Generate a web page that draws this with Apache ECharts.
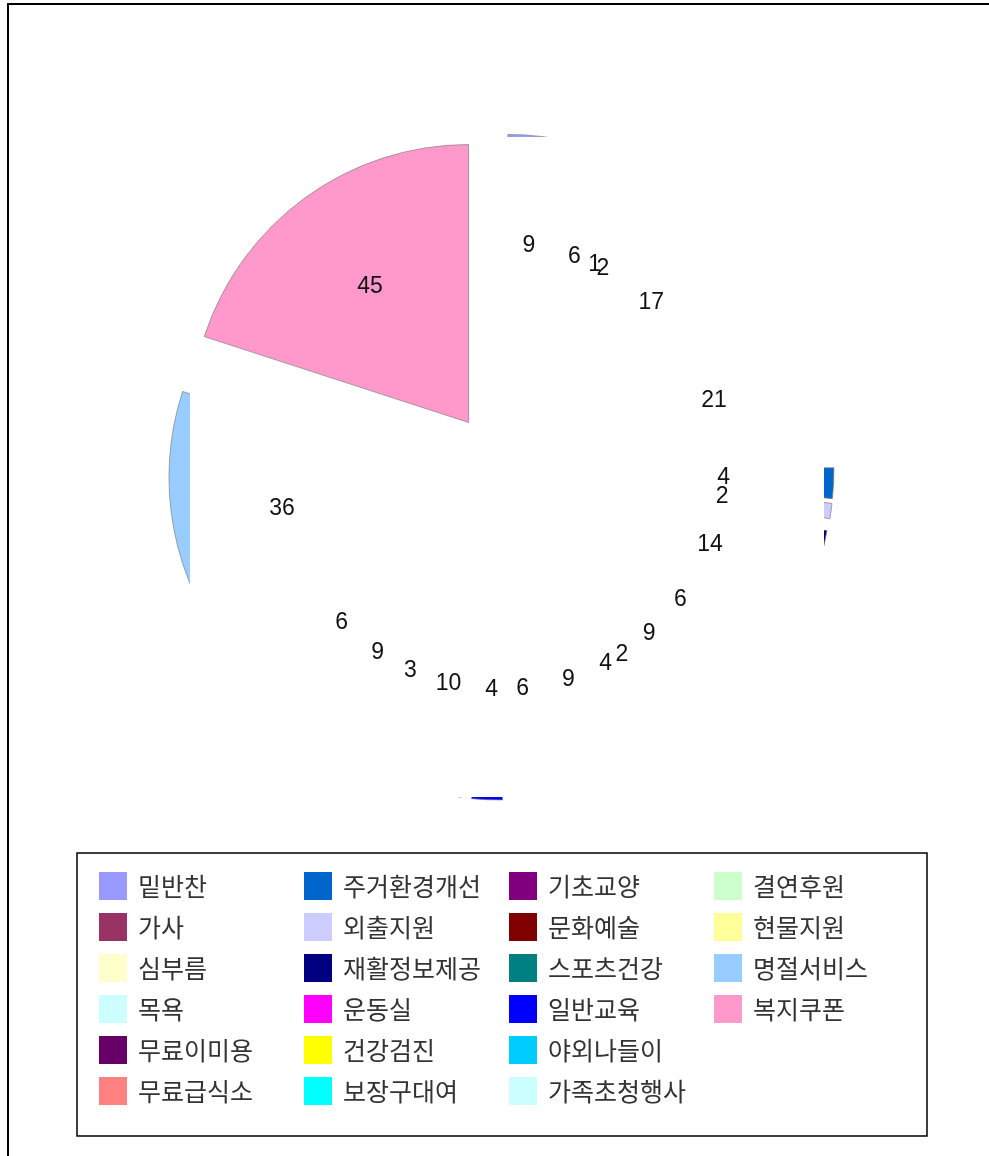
<!DOCTYPE html>
<html>
<head>
<meta charset="utf-8">
<title>pie</title>
<script src="https://cdn.jsdelivr.net/npm/echarts@6/dist/echarts.min.js"></script>
<style>
  html, body { margin: 0; padding: 0; background: #fff; }
  #chart { width: 989px; height: 1156px; }
</style>
</head>
<body>
<div id="chart"></div>
<script>
// 슬라이스 순서 (시계 방향, 12시부터)
var categories = ['밑반찬', '가사', '심부름', '목욕', '무료이미용', '무료급식소',
  '주거환경개선', '외출지원', '재활정보제공', '운동실', '건강검진', '보장구대여',
  '기초교양', '문화예술', '스포츠건강', '일반교육', '야외나들이', '가족초청행사',
  '결연후원', '현물지원', '명절서비스', '복지쿠폰']
var values = [9, 6, 1, 2, 17, 21, 4, 2, 14, 6, 9, 2, 4, 9, 6, 4, 10, 3, 9, 6, 36, 45]
var colors = ['#9999FF', '#993366', '#FFFFCC', '#CCFFFF', '#660066', '#FF8080',
  '#0066CC', '#CCCCFF', '#000080', '#FF00FF', '#FFFF00', '#00FFFF',
  '#800080', '#800000', '#008080', '#0000FF', '#00CCFF', '#CCFFFF',
  '#CCFFCC', '#FFFF99', '#99CCFF', '#FF99CC']
// 범례 (4열, 열 단위로 나눔)
var legendColumns = [
  ['밑반찬', '가사', '심부름', '목욕', '무료이미용', '무료급식소'],
  ['주거환경개선', '외출지원', '재활정보제공', '운동실', '건강검진', '보장구대여'],
  ['기초교양', '문화예술', '스포츠건강', '일반교육', '야외나들이', '가족초청행사'],
  ['결연후원', '현물지원', '명절서비스', '복지쿠폰']
]
// 바깥으로 빠져나온 조각들
var explodedBack = ['밑반찬', '주거환경개선', '외출지원', '재활정보제공', '일반교육', '야외나들이', '명절서비스']
var highlighted = '복지쿠폰'

var center = [501, 467]
var radius = 278
var colorOf = {}
categories.forEach(function (c, i) { colorOf[c] = colors[i] })

var chart = echarts.init(document.getElementById('chart'))

var backData = categories.map(function (name, i) {
  return {
    name: name,
    value: values[i],
    selected: explodedBack.indexOf(name) >= 0,
    itemStyle: { color: colors[i] }
  }
})
var frontData = categories.map(function (name, i) {
  var on = name === highlighted
  return {
    name: name,
    value: values[i],
    selected: on,
    itemStyle: on ? { color: colors[i], borderColor: '#808080', borderWidth: 0.7 } : { color: 'rgba(0,0,0,0)', borderWidth: 0 }
  }
})
var labelData = categories.map(function (name, i) {
  return { name: name, value: values[i] }
})

// 열마다 범례 하나
var legends = legendColumns.map(function (col, k) {
  return {
    data: col.map(function (n) {
      return { name: n, icon: 'rect', itemStyle: { color: colorOf[n], borderWidth: 0 } }
    }),
    orient: 'vertical',
    left: 99 + k * 205,
    top: 872,
    padding: 0,
    itemWidth: 28,
    itemHeight: 28,
    itemGap: 13,
    selectedMode: false,
    textStyle: {
      fontFamily: 'Noto Sans CJK KR',
      fontSize: 25,
      color: '#333',
      padding: [0, 0, 0, 6]
    }
  }
})

var option = {
  animation: false,
  legend: legends,
  graphic: [
    {
      type: 'rect', z: 3, silent: true,
      shape: { x: 190, y: 137, width: 634, height: 660 },
      style: { fill: '#fff' }
    },
    {
      type: 'rect', z: 10, silent: true,
      shape: { x: 8, y: 4, width: 1000, height: 1200 },
      style: { fill: 'none', stroke: '#000', lineWidth: 2 }
    },
    {
      type: 'rect', z: 10, silent: true,
      shape: { x: 77, y: 853, width: 850, height: 283 },
      style: { fill: 'none', stroke: '#000', lineWidth: 1.5 }
    }
  ],
  series: [
    {
      type: 'pie',
      z: 1,
      silent: true,
      center: center,
      radius: radius,
      startAngle: 90,
      selectedMode: 'multiple',
      selectedOffset: 55,
      itemStyle: { borderColor: '#808080', borderWidth: 0.7 },
      label: { show: false },
      labelLine: { show: false },
      emphasis: { disabled: true },
      data: backData
    },
    {
      type: 'pie',
      z: 5,
      silent: true,
      center: center,
      radius: radius,
      startAngle: 90,
      selectedMode: 'single',
      selectedOffset: 55,
      label: { show: false },
      labelLine: { show: false },
      emphasis: { disabled: true },
      data: frontData
    },
    {
      type: 'pie',
      z: 6,
      silent: true,
      center: center,
      radius: [162, radius],
      startAngle: 90,
      avoidLabelOverlap: false,
      labelLayout: { hideOverlap: false },
      itemStyle: { color: 'rgba(0,0,0,0)', borderWidth: 0 },
      label: {
        show: true,
        position: 'inside',
        formatter: '{c}',
        fontFamily: 'Liberation Sans',
        fontSize: 23,
        color: '#111'
      },
      labelLine: { show: false },
      emphasis: { disabled: true },
      data: labelData
    }
  ]
}

chart.setOption(option)
</script>
</body>
</html>
